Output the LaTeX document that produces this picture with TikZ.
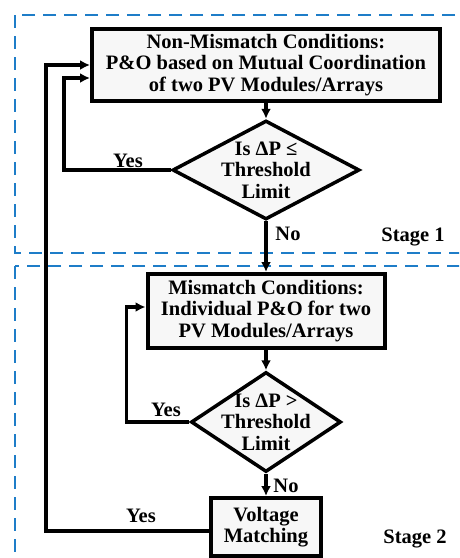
\documentclass[tikz,border=0pt]{standalone}
\usepackage{fontspec}
\setmainfont{Liberation Serif}
\usetikzlibrary{shapes.geometric,arrows.meta}
\definecolor{stageblue}{RGB}{30,125,200}
\begin{document}
\begin{tikzpicture}[x=1pt,y=-1pt,
  every node/.style={font=\fontsize{20.5}{21.5}\selectfont\bfseries},
  procbox/.style={draw, line width=4pt, fill=gray!6, inner sep=0pt, align=center},
  decbox/.style={draw, diamond, line width=3.5pt, fill=gray!6, inner sep=0pt},
  dectext/.style={align=center, inner sep=0pt},
  flow/.style={line width=3.5pt, -{Latex[length=10pt,width=10pt]}},
  lbl/.style={inner sep=0pt},
  stagebox/.style={draw=stageblue, line width=2.5pt, dash pattern=on 13pt off 8pt}
]
\useasboundingbox (0,0) rectangle (459,558);
\clip (0,0) rectangle (459,558);
\fill[white] (0,0) rectangle (459,558);
% stage frames
\draw[stagebox] (15,15) rectangle (480,253);
\draw[stagebox] (15,266) rectangle (480,580);
% nodes
\node[procbox, minimum width=348pt, minimum height=72pt] (b1) at (266,65)
  {Non-Mismatch Conditions:\\P\&O based on Mutual Coordination\\of two PV Modules/Arrays};
\node[decbox, minimum width=187pt, minimum height=99pt] (d1) at (266,170) {};
\node[dectext] (d1t) at (d1) {Is ΔP ≤\\Threshold\\Limit};
\node[procbox, minimum width=237pt, minimum height=74pt] (b2) at (266,311)
  {Mismatch Conditions:\\Individual P\&O for two\\PV Modules/Arrays};
\node[decbox, minimum width=150pt, minimum height=100pt] (d2) at (266,422) {};
\node[dectext] (d2t) at (d2) {Is ΔP >\\Threshold\\Limit};
\node[procbox, minimum width=110pt, minimum height=58pt] (b3) at (266,527)
  {Voltage\\Matching};
% connectors
\draw[flow] (b1.south) -- (d1.north);
\draw[flow] (d1.west) -- ++(-107,0) |- ([yshift=-13pt]b1.west);
\draw[flow] (d1.south) -- (b2.north);
\draw[flow] (b2.south) -- (d2.north);
\draw[flow] (d2.west) -- ++(-63,0) |- ([yshift=4pt]b2.west);
\draw[flow] (d2.south) -- (b3.north);
\draw[flow] ([yshift=-4pt]b3.west) -- ++(-163,0) |- (b1.west);
% labels
\node[lbl] (yes1) at (128,161) {Yes};
\node[lbl] (no1) at (288,234) {No};
\node[lbl] (yes2) at (166,410) {Yes};
\node[lbl] (no2) at (286,486) {No};
\node[lbl] (yes3) at (141,516) {Yes};
\node[lbl] (st1) at (413,237) {Stage 1};
\node[lbl] (st2) at (415,539) {Stage 2};
\end{tikzpicture}
\end{document}
